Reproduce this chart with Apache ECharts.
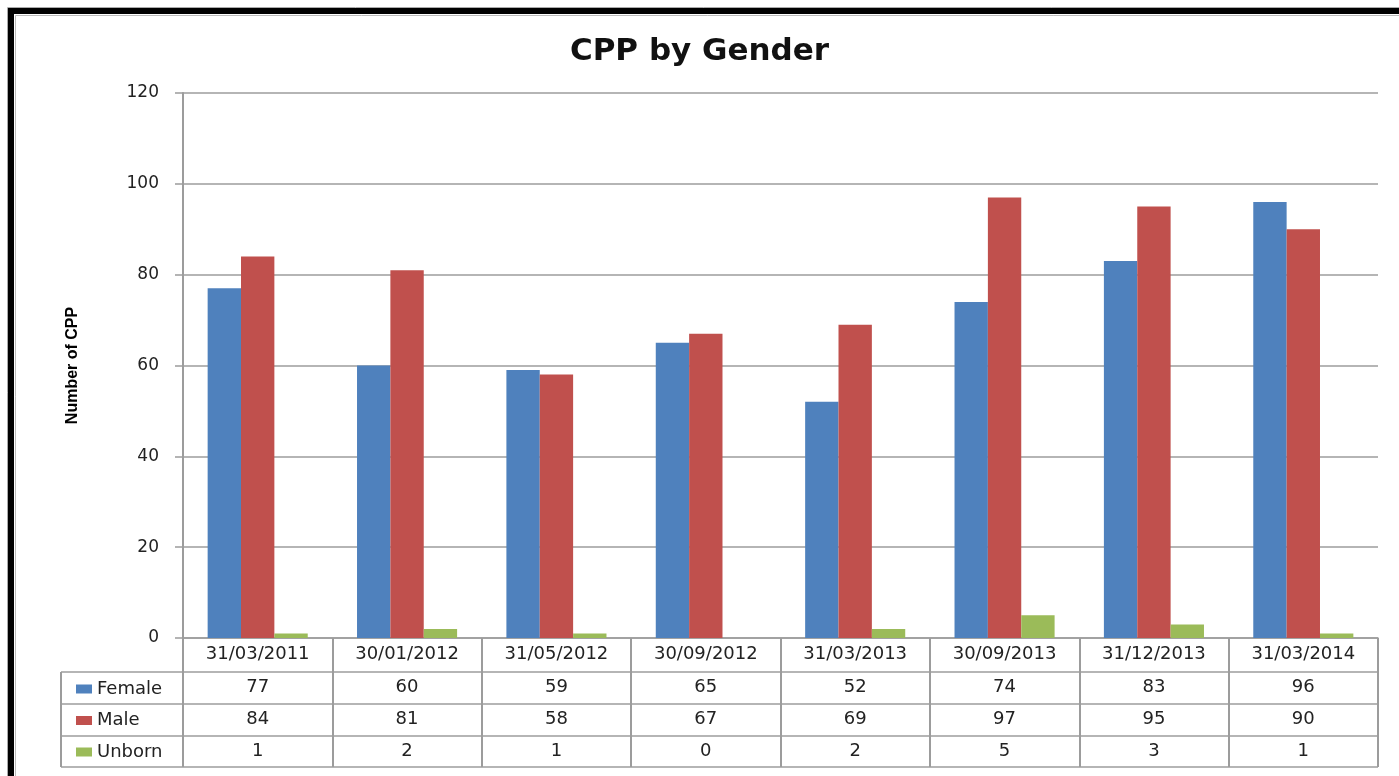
<!DOCTYPE html>
<html>
<head>
<meta charset="utf-8">
<title>CPP by Gender</title>
<script src="https://cdn.jsdelivr.net/npm/echarts@6/dist/echarts.min.js"></script>
<style>
  html, body { margin: 0; padding: 0; background: #fff; }
  #main { width: 1399px; height: 776px; }
</style>
</head>
<body>
<div id="main"></div>
<script>
var dates = ['31/03/2011', '30/01/2012', '31/05/2012', '30/09/2012',
             '31/03/2013', '30/09/2013', '31/12/2013', '31/03/2014'];
var female = [77, 60, 59, 65, 52, 74, 83, 96];
var male   = [84, 81, 58, 67, 69, 97, 95, 90];
var unborn = [1, 2, 1, 0, 2, 5, 3, 1];

var rows = [
    { name: 'Female', values: female, color: '#4F81BD' },
    { name: 'Male',   values: male,   color: '#C0504D' },
    { name: 'Unborn', values: unborn, color: '#9BBB59' }
];

var dom = document.getElementById('main');
var myChart = echarts.init(dom);

var font = 'DejaVu Sans';
var gridColor = '#9c9c9c';
var axisY = 638, tableLeft = 61, plotLeft = 183, plotRight = 1378;
var rowLines = [34, 66, 98, 129];   // table row borders, below the axis
var rowOffsets = [33, 65, 97];      // label offset of each data row

// one extra bottom x axis per table row, labels are the row values
var xAxes = [{
    type: 'category',
    data: dates,
    axisLine: { lineStyle: { color: gridColor, width: 1.5 } },
    axisTick: { show: true, length: 129, lineStyle: { color: gridColor, width: 2 } },
    axisLabel: { interval: 0, margin: 7, fontFamily: font, fontSize: 18, color: '#222' }
}];
rows.forEach(function (r, k) {
    xAxes.push({
        type: 'category',
        position: 'bottom',
        offset: rowOffsets[k],
        data: dates,
        axisLine: { show: false },
        axisTick: { show: false },
        axisLabel: {
            interval: 0, margin: 7, fontFamily: font, fontSize: 18, color: '#222',
            formatter: function (v, i) { return String(r.values[i]); }
        }
    });
});

// table frame lines
var lines = rowLines.map(function (d) {
    return { type: 'line', shape: { x1: tableLeft, y1: axisY + d, x2: plotRight, y2: axisY + d },
             style: { stroke: gridColor, lineWidth: 1.5 } };
});
lines.push({ type: 'line', shape: { x1: tableLeft, y1: axisY + 34, x2: tableLeft, y2: axisY + 129 },
             style: { stroke: gridColor, lineWidth: 2 } });

option = {
    animation: false,
    backgroundColor: '#fff',
    title: {
        text: 'CPP by Gender',
        left: 'center',
        top: 31,
        textStyle: { fontFamily: font, fontWeight: 'bold', fontSize: 31, color: '#111' }
    },
    legend: {
        orient: 'vertical',
        left: 71,
        top: 675,
        itemWidth: 16,
        itemHeight: 9,
        itemGap: 13.5,
        icon: 'rect',
        textStyle: { fontFamily: font, fontSize: 18, color: '#222' },
        data: ['Female', 'Male', 'Unborn']
    },
    grid: { left: plotLeft, right: 1399 - plotRight, top: 93, bottom: 776 - axisY },
    xAxis: xAxes,
    yAxis: {
        type: 'value',
        min: 0,
        max: 120,
        interval: 20,
        name: 'Number of CPP',
        nameLocation: 'middle',
        nameGap: 102,
        nameTextStyle: { fontFamily: 'Liberation Sans', fontWeight: 'bold', fontSize: 16, color: '#000' },
        axisLine: { show: true, lineStyle: { color: gridColor, width: 2 } },
        axisTick: { show: true, length: 8, lineStyle: { color: gridColor, width: 1.5 } },
        axisLabel: { margin: 24, fontFamily: font, fontSize: 17, color: '#222' },
        splitLine: { lineStyle: { color: gridColor, width: 1.5 } }
    },
    series: rows.map(function (r) {
        return {
            name: r.name,
            type: 'bar',
            data: r.values,
            barGap: 0,
            barCategoryGap: '33%',
            itemStyle: { color: r.color }
        };
    }),
    graphic: [
        { type: 'rect', shape: { x: 7.5, y: 7.5, width: 1500, height: 900 }, style: { fill: 'none', stroke: '#aaa', lineWidth: 1 } },
        { type: 'rect', shape: { x: 11, y: 11, width: 1500, height: 900 }, style: { fill: 'none', stroke: '#000', lineWidth: 6 } },
        { type: 'rect', shape: { x: 15.5, y: 15.5, width: 1500, height: 900 }, style: { fill: 'none', stroke: '#bbb', lineWidth: 1 } }
    ].concat(lines)
};

if (option && typeof option === 'object') {
    myChart.setOption(option, true);
}
</script>
</body>
</html>
